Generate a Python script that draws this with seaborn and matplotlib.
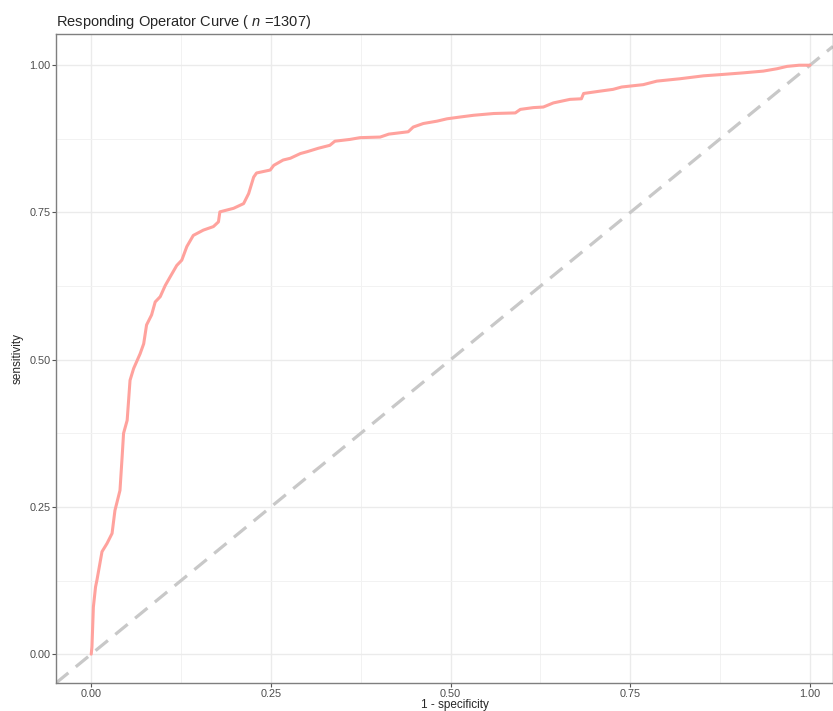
import matplotlib
matplotlib.use("Agg")
import matplotlib.pyplot as plt
import matplotlib.ticker as mticker
import pandas as pd
import seaborn as sns

sns.set_style("white")
plt.rcParams['font.family'] = ['Liberation Sans', 'DejaVu Sans']
plt.rcParams['mathtext.fontset'] = 'custom'
plt.rcParams['mathtext.it'] = 'Liberation Sans:italic'
plt.rcParams['mathtext.rm'] = 'Liberation Sans'

# ROC curve (1 - specificity, sensitivity)
fpr = [0.000, 0.001, 0.003, 0.006, 0.008, 0.015, 0.022, 0.029, 0.033, 0.040,
       0.043, 0.045, 0.050, 0.052, 0.054, 0.059, 0.068, 0.073, 0.077, 0.084,
       0.089, 0.096, 0.103, 0.110, 0.119, 0.126, 0.133, 0.142, 0.156, 0.170,
       0.177, 0.179, 0.198, 0.212, 0.219, 0.226, 0.230, 0.249, 0.254, 0.267,
       0.277, 0.291, 0.300, 0.316, 0.332, 0.339, 0.360, 0.374, 0.402, 0.414,
       0.441, 0.448, 0.462, 0.481, 0.495, 0.513, 0.532, 0.560, 0.590, 0.597,
       0.615, 0.629, 0.643, 0.666, 0.682, 0.685, 0.708, 0.726, 0.738, 0.768,
       0.787, 0.819, 0.852, 0.875, 0.907, 0.935, 0.954, 0.968, 0.985, 1.000]
tpr = [0.000, 0.012, 0.080, 0.114, 0.126, 0.174, 0.188, 0.205, 0.244, 0.278,
       0.335, 0.375, 0.397, 0.431, 0.465, 0.485, 0.510, 0.527, 0.559, 0.576,
       0.598, 0.607, 0.626, 0.641, 0.660, 0.669, 0.692, 0.711, 0.720, 0.726,
       0.734, 0.751, 0.757, 0.765, 0.782, 0.810, 0.817, 0.822, 0.830, 0.839,
       0.842, 0.850, 0.853, 0.859, 0.864, 0.871, 0.874, 0.877, 0.878, 0.883,
       0.887, 0.895, 0.901, 0.905, 0.909, 0.912, 0.915, 0.918, 0.919, 0.925,
       0.928, 0.929, 0.936, 0.942, 0.943, 0.952, 0.956, 0.959, 0.963, 0.967,
       0.973, 0.977, 0.982, 0.984, 0.987, 0.990, 0.994, 0.998, 1.000, 1.000]
ticks = [0.0, 0.25, 0.5, 0.75, 1.0]
tick_labels = ['0.00', '0.25', '0.50', '0.75', '1.00']
n_obs = 1307

roc = pd.DataFrame({'fpr': fpr, 'tpr': tpr})

fig = plt.figure(figsize=(8.33, 7.11), dpi=100)
ax = fig.add_axes([56/833, 28/711, 777/833, 649/711])

# chance line
ax.axline((0, 0), (1, 1), color='#C8C8C8', lw=2.3, dashes=(5, 3), zorder=2)
sns.lineplot(data=roc, x='fpr', y='tpr', sort=False, ax=ax, color='#FFA29D',
             lw=2.2, zorder=3, estimator=None)

ax.set_xlim(-0.049, 1.032)
ax.set_ylim(-0.049, 1.053)
ax.set_xticks(ticks)
ax.set_xticklabels(tick_labels)
ax.set_yticks(ticks)
ax.set_yticklabels(tick_labels)
ax.xaxis.set_minor_locator(mticker.MultipleLocator(0.125))
ax.yaxis.set_minor_locator(mticker.MultipleLocator(0.125))
ax.grid(which='major', color='#EBEBEB', lw=1.0)
ax.grid(which='minor', color='#F2F2F2', lw=0.7)
ax.set_axisbelow(True)
ax.tick_params(which='major', length=3, width=0.8, color='#555555',
               labelsize=7.8, labelcolor='#4D4D4D', pad=1,
               bottom=True, left=True)
ax.tick_params(which='minor', length=0)
for s in ax.spines.values():
    s.set_color('#7F7F7F')
    s.set_linewidth(1.0)

ax.set_xlabel('1 - specificity', fontsize=8.5)
ax.set_ylabel('sensitivity', fontsize=8.5, labelpad=4)
ax.xaxis.set_label_coords(0.513, -0.025)
ax.set_title(r'Responding Operator Curve ( $\mathit{n}$ =' + str(n_obs) + ')',
             loc='left', fontsize=10.5, pad=6)

plt.savefig('out.png', dpi=100)
